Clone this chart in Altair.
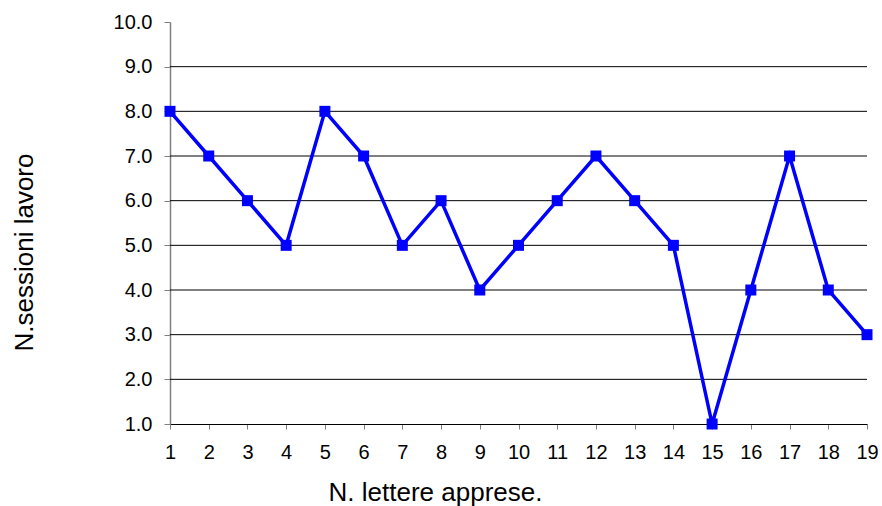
import altair as alt
import pandas as pd

letters = list(range(1, 20))
sessions = [8, 7, 6, 5, 8, 7, 5, 6, 4, 5, 6, 7, 6, 5, 1, 4, 7, 4, 3]
y_ticks = [1, 2, 3, 4, 5, 6, 7, 8, 9, 10]
grid_levels = [2, 3, 4, 5, 6, 7, 8, 9]

df = pd.DataFrame({"x": letters, "y": sessions})
gdf = pd.DataFrame({"g": grid_levels})

FONT = "Liberation Sans"

xscale = alt.Scale(domain=[1, 19], nice=False, zero=False)
yscale = alt.Scale(domain=[1, 10], nice=False, zero=False)

xaxis = alt.Axis(
    values=letters, title="N. lettere apprese.", grid=False,
    domainColor="#000000", domainWidth=1,
    tickColor="#808080", tickSize=5, tickWidth=1,
    labelFont=FONT, labelFontSize=20, labelColor="#000000", labelPadding=13,
    labelFlush=False, labelOverlap=False,
    titleFont=FONT, titleFontSize=26, titleFontWeight="normal", titleColor="#000000",
    titleAnchor="start", titleAlign="center", titleX=265, titleY=76,
    titleBaseline="alphabetic",
)
yaxis = alt.Axis(
    values=y_ticks, format=".1f", title="N.sessioni lavoro", grid=False,
    domainColor="#808080", domainWidth=1.5,
    tickColor="#808080", tickSize=6, tickWidth=1,
    labelFont=FONT, labelFontSize=20, labelColor="#000000", labelPadding=12,
    labelFlush=False, labelOverlap=False,
    titleFont=FONT, titleFontSize=26, titleFontWeight="normal", titleColor="#000000",
    titleAngle=270, titleAlign="center", titleAnchor="start",
    titleX=-138, titleY=230, titleBaseline="alphabetic",
)

grid = alt.Chart(gdf).mark_rule(color="#000000", strokeWidth=1).encode(
    y=alt.Y("g:Q", scale=yscale, axis=yaxis)
)

line = alt.Chart(df).mark_line(color="#0000FF", strokeWidth=3.5, clip=False).encode(
    x=alt.X("x:Q", scale=xscale, axis=xaxis),
    y=alt.Y("y:Q", scale=yscale, axis=yaxis),
)

pts = alt.Chart(df).mark_point(
    shape="square", filled=True, color="#0000FF", size=121, opacity=1, clip=False
).encode(
    x=alt.X("x:Q", scale=xscale, axis=xaxis),
    y=alt.Y("y:Q", scale=yscale, axis=yaxis),
)

chart = alt.layer(grid, line, pts).properties(
    width=697, height=402,
    autosize="none",
    padding={"left": 170, "top": 22, "right": 15, "bottom": 82},
    background="#FFFFFF",
).configure_view(stroke=None)

chart.save("out.html", embed_options={"renderer": "svg", "actions": False})
